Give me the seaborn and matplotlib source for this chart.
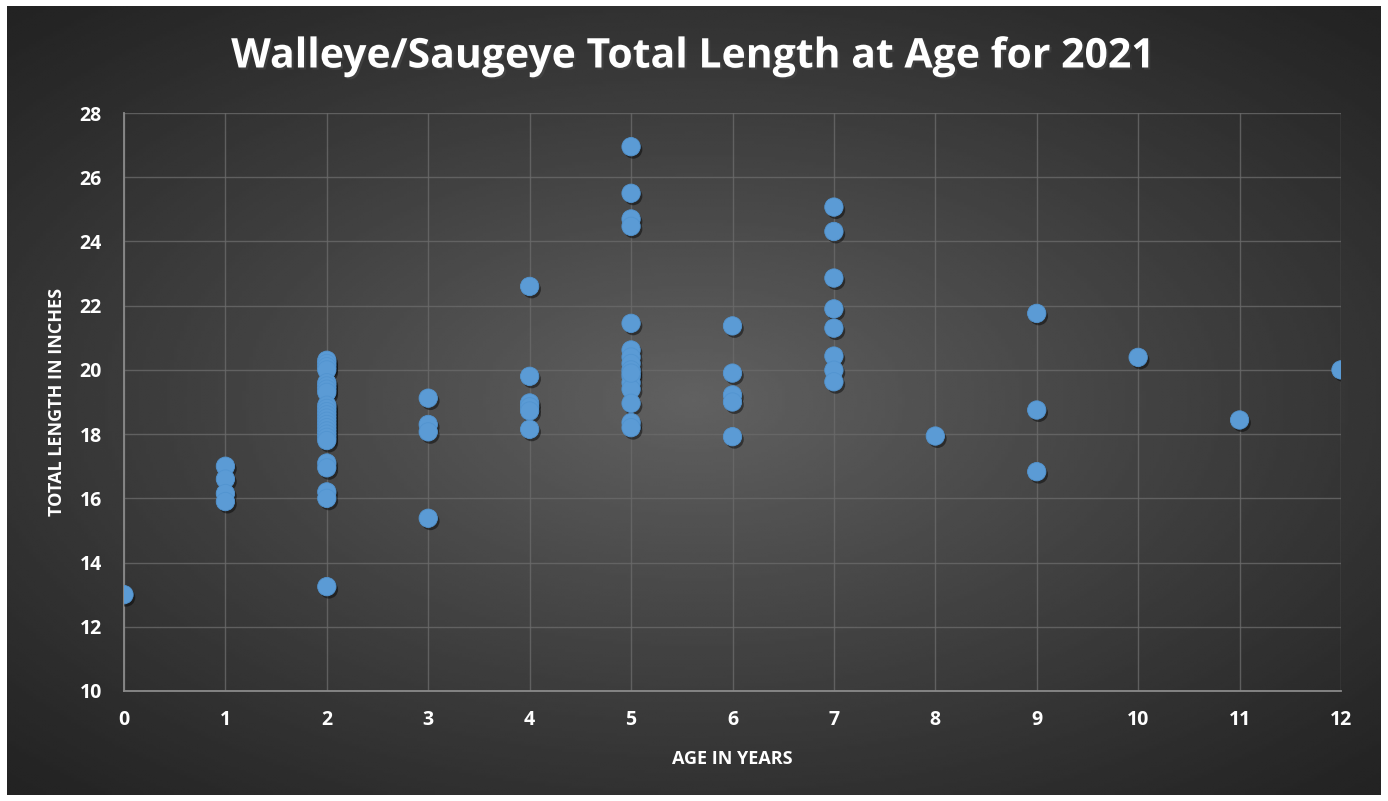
#%% IMPORTS
from matplotlib import pyplot as plt
import matplotlib.patheffects as pe
import numpy as np
import pandas as pd
import seaborn as sns

#%% DATA (age in years, total length in inches)
ages = ([0]
        + [1] * 4
        + [2] * 25
        + [3] * 4
        + [4] * 6
        + [5] * 16
        + [6] * 5
        + [7] * 8
        + [8]
        + [9] * 3
        + [10] + [11] + [12])
lengths = ([13.0]
           + [17.0, 16.6, 16.15, 15.9]
           + [20.3, 20.2, 20.1, 20.0, 19.6, 19.5, 19.4, 19.3, 18.9, 18.8,
              18.7, 18.6, 18.5, 18.4, 18.3, 18.2, 18.1, 18.0, 17.9, 17.8,
              17.1, 16.95, 16.2, 16.0, 13.25]
           + [19.12, 18.3, 18.07, 15.38]
           + [22.6, 19.8, 18.97, 18.85, 18.72, 18.15]
           + [26.95, 25.5, 24.7, 24.47, 21.45, 20.62, 20.4, 20.2, 20.0, 19.8,
              19.6, 19.4, 18.96, 18.36, 18.2, 19.9]
           + [21.37, 19.9, 19.22, 19.0, 17.92]
           + [25.07, 24.31, 22.86, 21.9, 21.3, 20.43, 19.99, 19.63]
           + [17.94]
           + [21.76, 18.75, 16.83]
           + [20.39] + [18.44] + [20.0])

x_ticks = list(range(0, 13))
y_ticks = list(range(10, 29, 2))

title_text = 'Walleye/Saugeye Total Length at Age for 2021'
x_label = 'AGE IN YEARS'
y_label = 'TOTAL LENGTH IN INCHES'

#%% PLOT
sns.set_theme(style='dark')
plt.rcParams['font.family'] = ['Open Sans', 'DejaVu Sans']

df = pd.DataFrame({'age': ages, 'length': lengths})

fig = plt.figure(figsize=(13.88, 8.01), dpi=100, facecolor='white')

# radial gradient background panel
bg = fig.add_axes([7 / 1388, 6 / 801, 1374 / 1388, 789 / 801])
gx, gy = np.meshgrid(np.linspace(-1, 1, 400), np.linspace(-1, 1, 300))
r = np.sqrt((gx * 0.95) ** 2 + (gy * 1.0) ** 2)
shade = np.clip(1 - r / 1.35, 0, 1) ** 1.1
img = 0.14 + 0.24 * shade
bg.imshow(img, cmap='gray', vmin=0, vmax=1, aspect='auto',
          extent=[0, 1, 0, 1], interpolation='bilinear')
bg.set_axis_off()

ax = fig.add_axes([124 / 1388, 110 / 801, 1217 / 1388, 578 / 801])
ax.set_facecolor('none')

sns.scatterplot(data=df, x='age', y='length', ax=ax, s=175,
                color='#5b9bd5', edgecolor='#5294d0', linewidth=0.6,
                zorder=5, legend=False)
ax.collections[0].set_path_effects(
    [pe.SimplePatchShadow(offset=(1.5, -2), shadow_rgbFace='black', alpha=0.45),
     pe.Normal()])

ax.set_xlim(0, 12)
ax.set_ylim(10, 28)
ax.set_xticks(x_ticks)
ax.set_yticks(y_ticks)
ax.grid(True, color='#6a6a6a', linewidth=1, alpha=0.8)
ax.set_axisbelow(True)
for side in ['top', 'right']:
    ax.spines[side].set_visible(False)
for side in ['left', 'bottom']:
    ax.spines[side].set_visible(True)
    ax.spines[side].set_color('#8a8a8a')
    ax.spines[side].set_linewidth(1.3)
ax.tick_params(axis='both', colors='white', labelsize=14, length=0)
for lab in ax.get_xticklabels() + ax.get_yticklabels():
    lab.set_fontweight('bold')
ax.tick_params(axis='x', pad=14)
ax.tick_params(axis='y', pad=16)

ax.set_xlabel(x_label, color='white', fontsize=13, fontweight='bold', labelpad=14)
ax.set_ylabel(y_label, color='white', fontsize=13, fontweight='bold', labelpad=10)

fig.text(0.5, 1 - 57 / 801, title_text, ha='center', va='center',
         color='white', fontsize=29.5, fontweight='bold',
         path_effects=[pe.withSimplePatchShadow(offset=(1.5, -1.5), alpha=0.5)])

fig.savefig('out.png', dpi=100, facecolor='white')
